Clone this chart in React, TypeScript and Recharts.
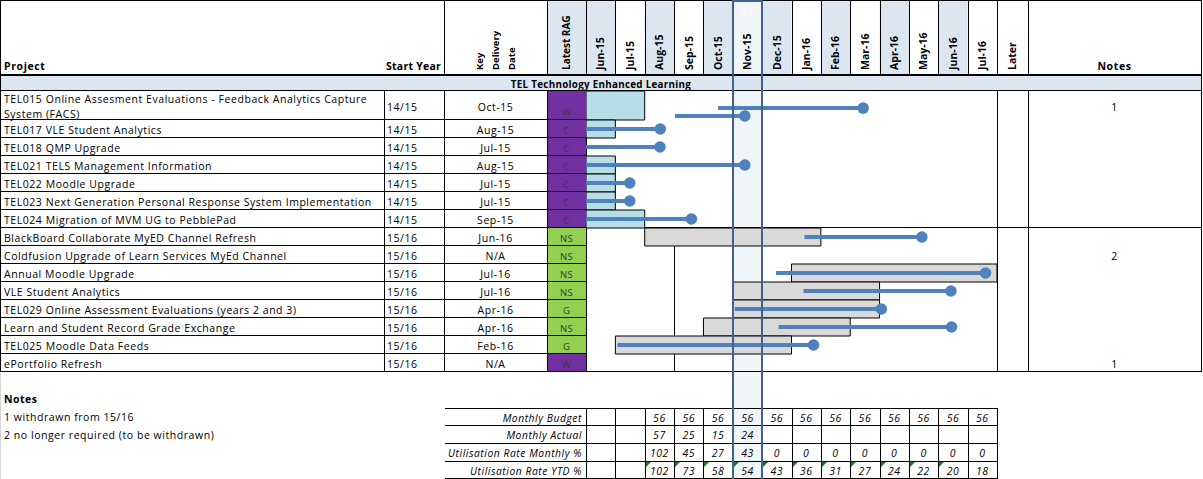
import React from 'react';
import { ComposedChart, XAxis, YAxis, Scatter, ReferenceArea } from 'recharts';

// ---------------- data ----------------
const sectionTitle = 'TEL Technology Enhanced Learning';
const projects = [
  'TEL015 Online Assesment Evaluations - Feedback Analytics Capture System (FACS)',
  'TEL017 VLE Student Analytics',
  'TEL018 QMP Upgrade',
  'TEL021 TELS Management Information',
  'TEL022 Moodle Upgrade',
  'TEL023 Next Generation Personal Response System Implementation',
  'TEL024 Migration of MVM UG to PebblePad',
  'BlackBoard Collaborate MyED Channel Refresh',
  'Coldfusion Upgrade of Learn Services MyEd Channel',
  'Annual Moodle Upgrade',
  'VLE Student Analytics',
  'TEL029 Online Assessment Evaluations  (years 2 and 3)',
  'Learn and Student Record Grade Exchange',
  'TEL025 Moodle Data Feeds',
  'ePortfolio Refresh',
];
const startYears = ['14/15', '14/15', '14/15', '14/15', '14/15', '14/15', '14/15', '15/16', '15/16', '15/16', '15/16', '15/16', '15/16', '15/16', '15/16'];
const keyDates = ['Oct-15', 'Aug-15', 'Jul-15', 'Aug-15', 'Jul-15', 'Jul-15', 'Sep-15', 'Jun-16', 'N/A', 'Jul-16', 'Jul-16', 'Apr-16', 'Apr-16', 'Feb-16', 'N/A'];
const rags = ['W', 'C', 'C', 'C', 'C', 'C', 'C', 'NS', 'NS', 'NS', 'NS', 'G', 'NS', 'G', 'W'];
const noteRefs = ['1', '', '', '', '', '', '', '', '2', '', '', '', '', '', '1'];
const months = ['Jun-15', 'Jul-15', 'Aug-15', 'Sep-15', 'Oct-15', 'Nov-15', 'Dec-15', 'Jan-16', 'Feb-16', 'Mar-16', 'Apr-16', 'May-16', 'Jun-16', 'Jul-16'];
const laterLabel = 'Later';
const currentMonth = 'Nov-15';
const currentDay = '31';

// planned window (month index from Jun-15), null = none
const planStart = [0, 0, null, 0, 0, 0, 0, 2, null, 7, 5, 5, 4, 1, null];
const planEnd = [2, 1, null, 1, 1, 1, 2, 8, null, 14, 10, 10, 9, 7, null];

// progress tracks (lollipops)
const trackProject = [0, 0, 1, 2, 3, 4, 5, 6, 7, 9, 10, 11, 12, 13];
const trackFrom = [4.5, 3.03, 0, 0, 0, 0, 0, 0, 7.44, 6.47, 7.41, 5.07, 6.56, 1.07];
const trackTo = [9.44, 5.41, 2.53, 2.52, 5.41, 1.49, 1.49, 3.59, 11.44, 13.61, 12.43, 10.06, 12.45, 7.75];

const notesTitle = 'Notes';
const noteLines = ['1 withdrawn from 15/16', '2 no longer required (to be withdrawn)'];

const budgetLabels = ['Monthly Budget', 'Monthly Actual', 'Utilisation Rate Monthly %', 'Utilisation Rate YTD %'];
const monthlyBudget = [null, null, 56, 56, 56, 56, 56, 56, 56, 56, 56, 56, 56, 56];
const monthlyActual = [null, null, 57, 25, 15, 24, null, null, null, null, null, null, null, null];
const utilMonthly = [null, null, 102, 45, 27, 43, 0, 0, 0, 0, 0, 0, 0, 0];
const utilYtd = [null, null, 102, 73, 58, 54, 43, 36, 31, 27, 24, 22, 20, 18];
const ytdFlagged = [false, false, true, true, true, true, true, true, true, true, true, true, true, false];

// ---------------- layout ----------------
const FONT = "'Open Sans', sans-serif";
const LS = 0.55;
const W = 1203;
const H = 479;
const X_SY = 384;
const X_KDD = 444;
const X_RAG = 547;
const X_M0 = 586;
const X_LATER = 997;
const X_NOTES = 1028;
const X_END = 1201;
const MW = (X_LATER - X_M0) / months.length;
const HDR_B = 75;
const BAND_T = 76;
const BAND_B = 91;
const ROW_H = 18;
const TALL_H = 29;
const WRAP = 65;

const PURPLE = '#7030A0';
const GREEN = '#92D050';
const HDR_BLUE = '#DCE6F1';
const BAR_BLUE = '#B7DEE8';
const BAR_GREY = '#D9D9D9';
const TRACK = '#4F81BD';
const HILITE = '#41628C';

const wrapName = (s: string): string[] => {
  if (s.length <= WRAP) return [s];
  const i = s.lastIndexOf(' ', WRAP);
  return [s.slice(0, i), s.slice(i + 1)];
};
const nameLines = projects.map(wrapName);
const rowUnits = nameLines.map((l) => (l.length > 1 ? TALL_H / ROW_H : 1));
const rowTopU: number[] = [];
rowUnits.reduce((acc, u, i) => {
  rowTopU[i] = acc;
  return acc + u;
}, 0);
const TOTAL_U = rowUnits.reduce((a, b) => a + b, 0);
const rowTop = (i: number) => BAND_B + rowTopU[i] * ROW_H;
const rowBot = (i: number) => BAND_B + (rowTopU[i] + rowUnits[i]) * ROW_H;
const rowMid = (i: number) => (rowTop(i) + rowBot(i)) / 2;
const TABLE_B = BAND_B + TOTAL_U * ROW_H;
const mx = (k: number) => X_M0 + k * MW;
const curIdx = months.indexOf(currentMonth);
const sectionBreak = startYears.findIndex((s) => s !== startYears[0]);

const BT_Y = [408, 425, 443, 461, 478];
const budgetRows = [monthlyBudget, monthlyActual, utilMonthly, utilYtd];

// tracks with lanes
const trackData = trackProject.map((p, i) => {
  const same = trackProject.filter((q) => q === p).length;
  const lane = trackProject.slice(0, i).filter((q) => q === p).length;
  const frac = same === 1 ? 0.5 : [0.59, 0.86][lane];
  const y = rowTopU[p] + rowUnits[p] * frac;
  return [
    { x: trackFrom[i], y, end: false },
    { x: trackTo[i], y, end: true },
  ];
});

const TrackDot = (props: any) => {
  const { cx, cy, payload } = props;
  if (!payload || !payload.end) return <g />;
  return <circle cx={cx} cy={cy} r={5.8} fill={TRACK} />;
};

const txt = (
  key: string,
  s: string,
  x: number,
  y: number,
  o: { anchor?: string; weight?: string; size?: number; fill?: string; italic?: boolean; ls?: number } = {}
) => (
  <text
    key={key}
    x={x}
    y={y}
    textAnchor={(o.anchor as any) || 'start'}
    dominantBaseline="central"
    fontFamily={FONT}
    fontSize={o.size || 10.5}
    fontWeight={o.weight || 'normal'}
    fontStyle={o.italic ? 'italic' : 'normal'}
    letterSpacing={o.ls === undefined ? LS : o.ls}
    fill={o.fill || '#000'}
  >
    {s}
  </text>
);

const vtxt = (key: string, s: string, cx: number, size = 10.5) => (
  <text
    key={key}
    transform={`translate(${cx + 3.8},70) rotate(-90)`}
    fontFamily={FONT}
    fontSize={size}
    fontWeight="bold"
    fill="#000"
  >
    {s}
  </text>
);

const ln = (key: string, x1: number, y1: number, x2: number, y2: number, w = 1, c = '#000') => (
  <line key={key} x1={x1} y1={y1} x2={x2} y2={y2} stroke={c} strokeWidth={w} />
);

function Table() {
  const els: React.ReactNode[] = [];
  // header fills
  els.push(<rect key="hrag" x={X_RAG} y={0} width={X_M0 - X_RAG} height={HDR_B} fill={HDR_BLUE} />);
  months.forEach((m, k) => {
    if (k % 2 === 0) els.push(<rect key={'hf' + k} x={mx(k)} y={0} width={MW} height={HDR_B} fill={HDR_BLUE} />);
  });
  // band
  els.push(<rect key="band" x={0} y={BAND_T} width={X_END} height={BAND_B - BAND_T} fill={HDR_BLUE} />);
  // current month column tint
  const cx0 = Math.round(mx(curIdx));
  const cx1 = Math.round(mx(curIdx + 1));
  els.push(<rect key="cur" x={cx0} y={0} width={cx1 - cx0} height={H} fill="rgb(200,218,238)" fillOpacity={0.28} />);
  // rag cells
  rags.forEach((r, i) => {
    els.push(
      <rect key={'rag' + i} x={X_RAG} y={rowTop(i)} width={X_M0 - X_RAG} height={rowBot(i) - rowTop(i)} fill={r === 'W' || r === 'C' ? PURPLE : GREEN} />
    );
  });
  // outer + header lines
  els.push(ln('top', 0, 0.5, X_END, 0.5));
  els.push(ln('left', 0.5, 0, 0.5, TABLE_B));
  els.push(ln('leftg', 0.5, TABLE_B, 0.5, H, 1, '#d4d4d4'));
  els.push(ln('right', X_END + 0.5, 0, X_END + 0.5, TABLE_B));
  els.push(ln('hb', 0, HDR_B, X_END + 1, HDR_B, 2));
  els.push(ln('bb', 0, BAND_B - 0.5, X_END + 1, BAND_B - 0.5));
  const hv = [X_KDD, X_RAG, ...months.map((_, k) => mx(k)), X_LATER, X_NOTES];
  hv.forEach((x, i) => els.push(ln('hv' + i, Math.round(x) + 0.5, 0, Math.round(x) + 0.5, HDR_B)));
  const dv = [X_SY, X_KDD, X_RAG, X_M0, X_LATER, X_NOTES];
  dv.forEach((x, i) => els.push(ln('dv' + i, x + 0.5, BAND_B, x + 0.5, TABLE_B)));
  // row lines
  projects.forEach((_, i) => {
    const y = Math.round(rowBot(i)) - 0.5;
    const full = i === sectionBreak - 1 || i === projects.length - 1;
    els.push(ln('rl' + i, 0, y, full ? X_END + 1 : X_M0, y));
  });
  // cell border artefact in 15/16 block
  els.push(ln('art', Math.round(mx(3)) + 0.5, rowTop(sectionBreak + 1), Math.round(mx(3)) + 0.5, TABLE_B));

  // header text
  els.push(txt('hp', 'Project', 4, 66, { weight: 'bold', size: 10.5, ls: 0.6 }));
  els.push(txt('hs', 'Start Year', 386, 66, { weight: 'bold', size: 10.5, ls: 0.25 }));
  ['Key', 'Delivery', 'Date'].forEach((s, i) => els.push(vtxt('kdd' + i, s, 479 + i * 16, 9.5)));
  els.push(vtxt('hrag', 'Latest RAG', (X_RAG + X_M0) / 2, 10));
  months.forEach((m, k) => els.push(vtxt('hm' + k, m, mx(k) + MW / 2)));
  els.push(vtxt('hl', laterLabel, (X_LATER + X_NOTES) / 2));
  els.push(txt('hn', 'Notes', (X_NOTES + X_END) / 2, 66, { weight: 'bold', anchor: 'middle', ls: 0.6 }));
  els.push(txt('cd', currentDay, mx(curIdx) + MW / 2, 12, { anchor: 'middle', fill: '#fff', size: 9 }));
  els.push(txt('band', sectionTitle, 601, 84, { weight: 'bold', anchor: 'middle', size: 9.8, ls: 0.3 }));

  // row text
  projects.forEach((_, i) => {
    const lines = nameLines[i];
    if (lines.length > 1) {
      els.push(txt('pn' + i + 'a', lines[0], 4, rowTop(i) + 8, {}));
      els.push(txt('pn' + i + 'b', lines[1], 4, rowTop(i) + 22.5, {}));
    } else {
      els.push(txt('pn' + i, lines[0], 4, rowMid(i) + 0.5, {}));
    }
    els.push(txt('sy' + i, startYears[i], 387, rowMid(i) + 1, {}));
    els.push(txt('kd' + i, keyDates[i], (X_KDD + X_RAG) / 2, rowMid(i) + 1, { anchor: 'middle' }));
    els.push(
      txt('rg' + i, rags[i], (X_RAG + X_M0) / 2, rowBot(i) - 8, { anchor: 'middle', size: 9.5, fill: '#3a3a3a', ls: 0.3 })
    );
    if (noteRefs[i]) els.push(txt('nr' + i, noteRefs[i], (X_NOTES + X_END) / 2, rowMid(i) + 1, { anchor: 'middle' }));
  });

  // notes
  els.push(txt('nt', notesTitle, 4, 399, { weight: 'bold', ls: 0.5 }));
  noteLines.forEach((s, i) => els.push(txt('nl' + i, s, 4, 417 + i * 17.5, {})));

  // budget table
  BT_Y.forEach((y, i) => els.push(ln('bh' + i, X_KDD + 1, y + 0.5, X_LATER + 1, y + 0.5)));
  for (let k = 0; k <= months.length; k++) {
    const x = Math.round(mx(k)) + 0.5;
    els.push(ln('bv' + k, x, BT_Y[0], x, BT_Y[4] + 1));
  }
  budgetLabels.forEach((s, r) => {
    const yc = (BT_Y[r] + BT_Y[r + 1]) / 2 + 1;
    els.push(txt('bl' + r, s, 582, yc, { anchor: 'end', italic: true, size: 10.3 }));
    budgetRows[r].forEach((v, k) => {
      if (v === null) return;
      els.push(txt('bc' + r + '_' + k, String(v), mx(k) + MW / 2, yc, { anchor: 'middle', italic: true, size: 10.5 }));
    });
  });
  ytdFlagged.forEach((f, k) => {
    if (!f) return;
    const x = Math.round(mx(k)) + 1;
    const y = BT_Y[3] + 1;
    els.push(<polygon key={'tri' + k} points={`${x},${y} ${x + 5},${y} ${x},${y + 5}`} fill="#1F7A1F" />);
  });

  return (
    <svg width={W} height={H} style={{ position: 'absolute', left: 0, top: 0 }}>
      <rect x={0} y={0} width={W} height={H} fill="#fff" />
      {els}
    </svg>
  );
}

function Gantt() {
  const gw = X_LATER - X_M0;
  const gh = TABLE_B - BAND_B;
  return (
    <div style={{ position: 'absolute', left: X_M0, top: BAND_B, width: gw, height: gh }}>
      <ComposedChart width={gw} height={gh} margin={{ top: 0, right: 0, bottom: 0, left: 0 }} style={{ overflow: 'visible' }}>
        <XAxis type="number" dataKey="x" domain={[0, months.length]} hide allowDataOverflow />
        <YAxis type="number" dataKey="y" domain={[0, TOTAL_U]} reversed hide allowDataOverflow />
        {projects.map((_, i) =>
          planStart[i] === null ? null : (
            <ReferenceArea
              key={'bar' + i}
              x1={planStart[i] as number}
              x2={planEnd[i] as number}
              y1={rowTopU[i]}
              y2={rowTopU[i] + rowUnits[i]}
              fill={startYears[i] === startYears[0] ? BAR_BLUE : BAR_GREY}
              fillOpacity={1}
              stroke="#000"
              strokeWidth={1}
              ifOverflow="visible"
            />
          )
        )}
        {trackData.map((pts, i) => (
          <Scatter
            key={'trk' + i}
            data={pts}
            fill={TRACK}
            line={{ stroke: TRACK, strokeWidth: 4 }}
            lineType="joint"
            shape={TrackDot}
            isAnimationActive={false}
          />
        ))}
      </ComposedChart>
    </div>
  );
}

function Highlight() {
  const x0 = Math.round(mx(curIdx));
  const x1 = Math.round(mx(curIdx + 1));
  return (
    <svg width={W} height={H} style={{ position: 'absolute', left: 0, top: 0, pointerEvents: 'none' }}>
      <line x1={x0} y1={0} x2={x0} y2={H} stroke={HILITE} strokeWidth={2} />
      <line x1={x1} y1={0} x2={x1} y2={H} stroke={HILITE} strokeWidth={2} />
      <line x1={x0} y1={1} x2={x1} y2={1} stroke={HILITE} strokeWidth={2} />
    </svg>
  );
}

export default function App() {
  return (
    <div style={{ position: 'absolute', left: 0, top: 0, width: W, height: H, overflow: 'hidden', background: '#fff' }}>
      <Table />
      <Gantt />
      <Highlight />
    </div>
  );
}
